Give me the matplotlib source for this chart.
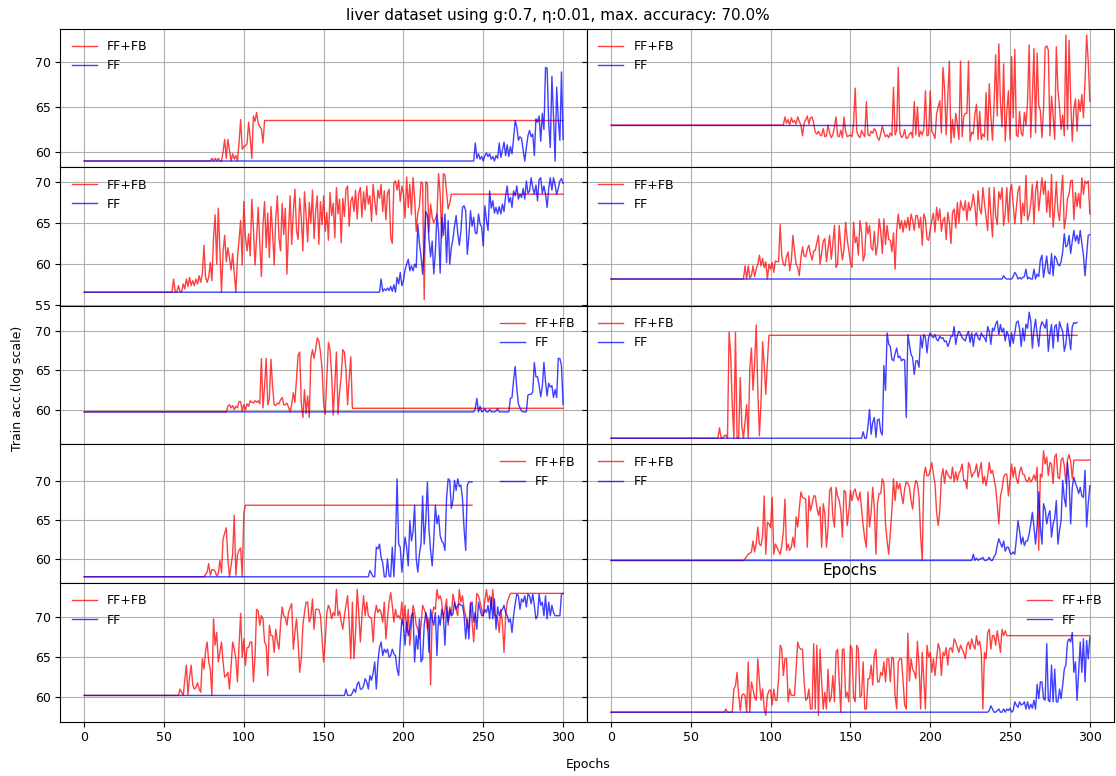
import matplotlib
matplotlib.use('Agg')
import matplotlib.pyplot as plt
import numpy as np

# Train accuracy (%) per epoch for the ten liver runs.
# "ffb" = FF+FB training, "ff" = plain FF, grid position in the name (row, col).

ffb_0_0 = [59.0] * 78 + [
    59.0, 59.0, 59.3, 59.0, 59.3, 59.0, 59.3, 59.0, 59.0, 60.0,
    61.4, 59.3, 61.4, 60.2, 59.0, 59.8, 59.2, 59.6, 59.0, 61.0,
    63.6, 60.3, 60.6, 60.7, 60.9, 63.3, 61.5, 59.3, 64.0, 63.4,
    64.4, 63.2, 62.8, 62.6, 61.0, 63.5,
] + [63.5] * 187
ff_0_0 = [59.0] * 244 + [
    59.0, 61.0, 59.3, 59.8, 59.2, 59.5,
    59.0, 59.6, 59.9, 59.5, 59.8, 59.2, 59.5, 59.0, 59.6, 59.3,
    61.0, 59.4, 60.2, 61.1, 59.6, 60.8, 59.5, 60.6, 59.8, 61.5,
    63.5, 62.8, 61.3, 61.7, 61.5, 60.2, 59.0, 60.5, 61.8, 62.4,
    61.7, 62.0, 59.6, 63.7, 63.3, 64.0, 61.2, 64.3, 62.5, 69.4,
    69.3, 63.2, 60.5, 68.4, 64.0, 59.0, 67.2, 63.5, 61.3, 68.9,
    61.4,
]

ffb_0_1 = [63.0] * 108 + [
    63.0, 63.9, 63.2, 63.6, 63.0, 63.8, 63.3, 63.5, 63.1, 63.9, 63.4, 63.0,
    61.8, 63.2, 63.6, 64.0, 63.1, 63.8, 63.9, 63.2, 62.2, 62.0,
    62.3, 61.9, 61.8, 62.6, 61.7, 61.8, 63.0, 62.1, 61.6, 61.9,
    62.8, 63.9, 61.8, 61.7, 62.4, 61.6, 63.9, 62.3, 61.7, 61.8,
    61.9, 61.7, 63.2, 67.1, 62.3, 61.8, 61.6, 62.4, 62.0, 61.7,
    65.6, 61.9, 61.8, 62.3, 62.1, 62.6, 62.3, 61.6, 61.3, 62.0,
    62.9, 62.2, 61.7, 61.9, 61.6, 62.1, 61.8, 67.2, 61.9, 62.4,
    69.4, 62.2, 61.6, 61.8, 62.5, 61.5, 61.6, 62.0, 62.2, 61.6,
    65.6, 61.9, 65.0, 61.7, 62.3, 61.9, 62.6, 66.8, 61.8, 61.9,
    66.8, 62.3, 62.0, 61.5, 64.2, 65.0, 65.7, 62.1, 69.4, 67.0,
    61.9, 66.0, 70.1, 61.0, 63.6, 61.6, 64.3, 63.1, 61.4, 70.1,
    61.7, 63.9, 64.3, 64.3, 70.1, 61.2, 62.2, 62.0, 64.2, 65.3,
    61.4, 64.5, 61.4, 62.0, 61.7, 66.6, 61.3, 67.6, 64.0, 61.3,
    65.2, 70.8, 64.0, 72.0, 65.5, 62.8, 69.8, 61.2, 64.5, 66.8,
    61.4, 70.6, 63.8, 71.4, 61.9, 61.7, 64.5, 62.1, 61.8, 64.4,
    63.0, 65.7, 71.9, 61.6, 66.1, 71.5, 62.1, 71.0, 65.2, 64.6,
    61.6, 64.8, 71.6, 71.8, 71.3, 61.8, 66.2, 64.0, 61.4, 71.7,
    67.0, 65.0, 62.5, 64.1, 61.8, 73.0, 62.5, 72.4, 65.8, 61.2,
    64.8, 65.9, 62.3, 65.8, 64.5, 66.4, 63.8, 68.0, 73.0, 70.1,
    65.6,
]
ff_0_1 = [63.0] * 301

ffb_1_0 = [56.6] * 56 + [
    58.2, 56.6, 56.6, 57.4,
    56.7, 56.6, 57.6, 57.0, 58.2, 57.3, 58.4, 57.4, 58.0, 57.4,
    58.2, 57.6, 58.6, 57.8, 58.8, 62.3, 58.5, 57.8, 58.4, 60.2,
    58.0, 63.1, 66.0, 60.0, 66.8, 61.8, 56.6, 61.5, 63.5, 60.3,
    62.0, 60.8, 59.3, 61.3, 59.0, 56.6, 60.7, 62.9, 65.3, 59.9,
    67.6, 63.3, 61.6, 63.7, 61.0, 67.9, 64.4, 59.9, 63.2, 66.9,
    62.5, 58.5, 64.8, 67.6, 62.0, 66.2, 60.8, 67.0, 63.9, 59.9,
    65.5, 68.3, 63.2, 61.6, 67.4, 63.6, 66.8, 58.8, 64.1, 68.3,
    62.4, 66.3, 69.1, 64.1, 63.0, 68.0, 65.6, 61.6, 68.8, 66.0,
    62.7, 67.5, 65.0, 69.0, 63.1, 66.5, 68.3, 62.4, 67.6, 64.8,
    68.3, 64.0, 66.3, 62.9, 68.7, 65.9, 67.4, 63.2, 69.3, 66.1,
    67.9, 62.6, 68.0, 65.8, 69.1, 69.5, 64.6, 67.6, 68.2, 66.4,
    69.0, 65.5, 68.6, 69.3, 65.7, 68.8, 66.6, 69.5, 67.3, 68.3,
    65.2, 69.7, 67.7, 66.0, 69.0, 68.0, 69.7, 66.4, 68.9, 65.4,
    68.6, 69.1, 63.3, 62.5, 69.9, 70.1, 69.0, 70.2, 67.6, 69.5,
    68.6, 65.6, 70.6, 66.9, 69.7, 66.0, 70.5, 68.0, 64.0, 66.2,
    67.0, 70.0, 69.8, 55.7, 70.0, 69.8, 63.9, 67.3, 65.7, 65.0,
    65.5, 66.0, 71.0, 68.5, 63.2, 71.0, 70.8, 68.8, 66.7, 67.4,
] + [68.5] * 71
ff_1_0 = [56.6] * 186 + [
    58.2, 56.7, 57.0, 56.8,
    57.1, 56.8, 57.3, 56.7, 57.5, 56.6, 58.4, 57.6, 59.0, 57.4,
    58.0, 59.3, 60.0, 60.6, 59.2, 59.8, 59.2, 60.0, 59.6, 64.8,
    62.5, 61.0, 58.8, 62.0, 66.4, 65.9, 63.0, 60.9, 62.8, 58.8,
    61.5, 66.1, 64.0, 58.9, 65.7, 63.5, 66.1, 60.2, 65.3, 60.0,
    62.0, 63.1, 64.6, 65.9, 63.8, 62.3, 64.0, 66.9, 67.1, 66.5,
    61.2, 63.4, 66.5, 64.6, 65.7, 63.8, 63.7, 66.1, 64.9, 64.5,
    62.2, 67.1, 65.3, 64.1, 68.9, 66.8, 67.7, 66.2, 66.9, 66.1,
    67.0, 66.1, 67.3, 66.4, 68.3, 69.5, 67.5, 68.1, 66.9, 68.9,
    68.3, 69.5, 67.9, 68.5, 68.1, 69.2, 67.9, 70.1, 68.6, 68.9,
    70.5, 69.3, 68.5, 69.6, 67.7, 70.3, 70.5, 68.6, 69.5, 68.5,
    66.9, 69.2, 70.5, 69.0, 70.5, 69.6, 68.5, 69.2, 70.1, 70.4,
    69.8,
]

ffb_1_1 = [58.2] * 84 + [
    59.8, 58.2, 59.8, 58.3, 58.6, 59.8,
    58.5, 59.4, 60.0, 61.1, 59.8, 60.7, 59.6, 60.3, 58.2, 60.0,
    59.4, 60.2, 59.0, 60.4, 60.3, 60.3, 64.8, 61.0, 60.0, 59.8,
    60.9, 61.5, 59.2, 60.4, 63.5, 61.6, 60.0, 59.6, 58.6, 60.8,
    62.1, 61.0, 60.9, 61.8, 62.3, 61.2, 60.5, 61.6, 61.7, 62.6,
    63.5, 60.0, 61.4, 62.8, 63.1, 60.3, 61.9, 63.5, 60.6, 62.5,
    64.7, 59.6, 60.0, 64.7, 62.2, 60.5, 61.8, 65.1, 63.0, 61.7,
    60.2, 59.6, 65.1, 62.6, 63.3, 61.1, 65.3, 63.8, 60.4, 61.1,
    65.1, 63.7, 64.7, 62.0, 61.7, 64.0, 61.1, 62.3, 65.5, 64.0,
    61.3, 65.5, 62.4, 64.7, 63.0, 62.9, 61.5, 63.8, 59.4, 64.2,
    66.1, 64.3, 65.3, 63.9, 65.3, 64.4, 65.7, 64.1, 66.1, 65.3,
    64.1, 65.9, 65.9, 64.4, 65.7, 62.3, 66.1, 65.5, 63.1, 62.9,
    64.2, 65.3, 66.2, 63.9, 66.9, 65.3, 66.7, 64.0, 65.3, 65.7,
    63.0, 66.3, 65.1, 62.5, 66.3, 66.7, 64.4, 67.5, 65.0, 67.7,
    66.9, 66.5, 67.7, 65.3, 67.5, 66.5, 67.1, 68.5, 67.0, 64.7,
    68.9, 66.8, 66.1, 69.3, 67.4, 65.7, 64.1, 69.3, 66.0, 63.3,
    69.3, 65.9, 64.8, 68.8, 67.9, 69.3, 64.7, 66.2, 69.3, 65.1,
    68.7, 69.7, 67.3, 64.9, 66.9, 68.9, 69.5, 64.9, 67.4, 65.9,
    70.8, 65.3, 66.0, 67.3, 69.7, 64.9, 68.9, 70.1, 66.5, 68.5,
    70.5, 68.5, 70.1, 66.3, 68.9, 65.7, 70.9, 64.5, 66.8, 70.0,
    66.5, 65.3, 68.4, 70.8, 64.3, 65.6, 68.0, 68.5, 70.1, 70.2,
    65.4, 68.7, 67.0, 68.6, 66.8, 70.5, 68.5, 70.1, 69.8, 70.1,
    66.1,
]
ff_1_1 = [58.2] * 245 + [
    58.2, 58.6, 58.3, 58.2, 58.2,
    58.2, 58.2, 58.5, 59.0, 58.7, 58.2, 58.4, 58.2, 58.4, 58.5,
    59.4, 58.2, 58.4, 58.2, 58.2, 59.4, 58.2, 58.8, 58.5, 60.5,
    61.1, 58.4, 59.7, 61.0, 59.0, 58.8, 61.3, 58.6, 61.0, 60.7,
    60.0, 59.8, 60.3, 61.5, 63.7, 62.1, 62.3, 63.5, 61.3, 62.8,
    64.1, 62.8, 63.5, 62.5, 64.1, 62.5, 61.1, 58.6, 61.0, 63.5,
    63.6,
]

ffb_2_0 = [59.8] * 90 + [
    60.5, 60.7, 60.3, 60.6, 60.1, 60.5, 60.3, 61.1, 61.1, 59.9,
    60.7, 60.0, 60.8, 60.5, 61.2, 61.0, 60.9, 61.2, 61.0, 61.2,
    60.8, 66.5, 60.3, 63.0, 66.5, 60.7, 61.5, 66.4, 63.0, 60.7,
    60.6, 60.9, 60.8, 61.3, 61.6, 60.7, 60.7, 60.9, 60.4, 59.8,
    60.7, 62.2, 61.0, 63.9, 66.9, 67.3, 60.9, 59.1, 62.6, 59.6,
    61.8, 59.1, 66.5, 67.6, 66.5, 67.6, 69.1, 68.7, 67.3, 65.3,
    60.8, 59.5, 64.0, 68.5, 67.6, 64.5, 59.4, 63.1, 67.3, 59.5,
    62.3, 64.3, 67.6, 67.3, 65.0, 60.7, 64.0, 66.7,
] + [60.25] * 133
ff_2_0 = [59.8] * 244 + [
    59.8, 60.2, 61.5, 59.8, 60.5, 59.8,
    59.9, 60.2, 59.8, 59.8, 60.1, 59.8, 59.8, 59.8, 59.9, 60.2,
    59.8, 59.8, 59.8, 59.8, 59.8, 59.8, 59.8, 61.5, 61.6, 63.8,
    65.5, 62.8, 60.8, 60.3, 59.9, 59.8, 59.8, 59.8, 61.9, 62.0,
    62.0, 62.3, 66.0, 64.2, 64.2, 63.1, 61.7, 63.0, 66.0, 63.6,
    61.8, 63.4, 62.9, 63.1, 61.6, 62.6, 61.6, 66.5, 66.5, 65.6,
    60.7,
]

ffb_2_1 = [56.5] * 68 + [
    57.8, 56.5,
    56.5, 56.8, 56.9, 56.5, 69.8, 67.0, 60.7, 56.5, 69.8, 56.5,
    56.5, 64.1, 58.0, 56.5, 58.5, 60.7, 56.5, 65.3, 67.8, 62.5,
    66.0, 70.7, 62.5, 56.8, 61.0, 68.6, 65.7, 62.0, 66.0,
] + [69.4] * 194
ff_2_1 = [56.5] * 158 + [
    57.3, 56.5,
    56.5, 58.0, 60.1, 57.0, 58.5, 59.1, 56.6, 58.8, 58.9, 57.3,
    56.9, 65.6, 62.5, 69.7, 68.3, 68.0, 66.4, 66.2, 67.1, 67.8,
    66.6, 66.8, 66.2, 66.4, 66.3, 59.1, 69.5, 68.2, 67.0, 66.6,
    64.5, 66.2, 66.2, 65.4, 69.3, 67.8, 69.5, 69.1, 67.2, 69.1,
    69.7, 69.3, 69.1, 69.5, 68.9, 68.7, 69.3, 69.0, 69.1, 68.6,
    68.7, 68.0, 68.5, 69.3, 69.3, 70.5, 68.25, 69.4, 69.9, 69.6,
    69.1, 68.9, 68.7, 69.5, 69.9, 68.5, 69.7, 68.0, 69.5, 69.7,
    69.1, 68.8, 69.7, 69.3, 69.1, 68.6, 70.5, 69.9, 68.25, 70.3,
    70.0, 70.8, 71.2, 69.5, 70.75, 69.8, 70.3, 68.7, 69.9, 69.4,
    68.0, 69.7, 68.4, 69.7, 71.0, 71.2, 70.2, 68.0, 70.3, 68.7,
    70.8, 70.3, 72.3, 71.2, 67.8, 70.1, 71.4, 69.5, 68.0, 70.4,
    71.1, 70.75, 70.3, 71.4, 67.4, 69.5, 70.75, 67.8, 70.5, 70.75,
    68.6, 71.1, 70.4, 69.9, 67.4, 68.3, 70.9, 69.2, 67.6, 70.5,
    71.0, 70.9, 71.0,
]

ffb_3_0 = [57.7] * 76 + [
    58.0, 58.3, 59.4, 57.9,
    58.6, 58.6, 58.4, 57.8, 58.1, 59.8, 58.2, 62.6, 63.3, 64.0,
    60.0, 57.7, 59.1, 60.6, 65.6, 57.9, 60.5, 61.1, 61.4, 57.7,
    65.9, 66.9,
] + [66.9] * 142
ff_3_0 = [57.7] * 179 + [
    58.5,
    58.1, 57.7, 57.7, 61.5, 61.3, 61.9, 60.2, 59.5, 57.7, 57.7,
    60.0, 57.8, 57.7, 61.5, 57.7, 62.0, 70.3, 61.9, 61.5, 58.3,
    60.5, 62.8, 61.5, 59.1, 64.9, 62.3, 63.5, 66.9, 60.0, 58.3,
    60.6, 62.0, 68.1, 61.9, 65.0, 69.9, 63.8, 61.1, 59.1, 62.5,
    66.9, 64.5, 65.6, 63.0, 62.3, 62.0, 61.1, 67.8, 70.3, 70.1,
    66.5, 67.5, 70.1, 68.8, 70.3, 69.3, 69.5, 67.7, 63.8, 61.1,
    69.5, 69.9, 69.9, 69.9,
]

ffb_3_1 = [59.8] * 84 + [
    60.0, 60.3, 60.6, 60.7, 60.9, 62.3,
    60.9, 62.0, 64.1, 61.9, 61.7, 63.0, 68.1, 60.6, 64.7, 64.5,
    64.0, 67.9, 60.6, 61.9, 61.5, 61.0, 60.6, 61.7, 63.5, 67.7,
    61.1, 61.9, 61.1, 61.5, 62.8, 61.5, 65.4, 64.1, 66.5, 68.6,
    67.9, 67.8, 67.7, 61.5, 68.1, 66.2, 67.0, 68.1, 68.1, 66.6,
    65.6, 66.7, 61.5, 67.1, 65.8, 61.5, 64.0, 68.8, 69.2, 65.5,
    64.1, 69.2, 68.1, 67.5, 66.2, 62.8, 68.8, 68.6, 64.3, 66.0,
    68.8, 67.5, 68.6, 69.0, 68.0, 67.5, 68.6, 66.5, 64.3, 62.6,
    61.5, 68.6, 64.1, 66.0, 69.2, 66.5, 60.6, 67.1, 68.4, 68.4,
    70.3, 69.7, 64.5, 62.3, 60.6, 63.5, 66.2, 70.3, 67.5, 69.9,
    69.0, 69.7, 68.2, 67.1, 69.0, 69.9, 69.7, 69.2, 67.5, 66.4,
    69.0, 70.1, 69.7, 68.0, 63.0, 59.8, 70.5, 71.8, 70.7, 70.7,
    71.4, 72.4, 70.9, 69.7, 66.0, 64.3, 66.2, 70.5, 71.6, 69.7,
    71.4, 70.9, 70.5, 70.3, 71.8, 69.9, 71.2, 70.1, 71.0, 71.4,
    72.2, 70.1, 70.1, 69.0, 72.4, 71.8, 70.5, 71.0, 71.2, 72.2,
    70.5, 71.4, 72.4, 69.7, 70.6, 69.4, 70.7, 72.4, 71.0, 71.4,
    70.3, 69.2, 67.0, 64.5, 68.0, 69.0, 70.5, 70.9, 70.9, 68.1,
    70.0, 72.2, 70.5, 71.8, 70.3, 69.7, 71.2, 71.8, 70.9, 70.8,
    70.1, 69.9, 70.5, 69.9, 70.2, 70.8, 70.1, 71.8, 61.1, 70.9,
    70.5, 73.9, 72.2, 73.1, 70.7, 72.4, 72.2, 69.7, 73.1, 73.5,
    70.5, 70.3, 72.7, 73.0, 72.0, 69.7, 72.8, 73.4, 72.5, 70.3,
    72.7,
] + [72.7] * 10
ff_3_1 = [59.8] * 227 + [
    60.6, 59.8, 60.1,
    59.8, 60.0, 60.0, 60.2, 59.8, 59.8, 59.9, 60.2, 59.8, 59.8,
    60.3, 60.6, 61.7, 62.6, 62.0, 61.5, 62.3, 61.0, 61.5, 61.5,
    60.8, 60.6, 60.9, 60.6, 62.6, 64.9, 63.6, 61.9, 62.8, 61.7,
    62.3, 62.3, 63.2, 64.5, 66.0, 64.1, 61.9, 64.3, 68.6, 64.1,
    61.9, 67.1, 66.4, 64.5, 65.6, 66.2, 62.8, 64.5, 65.2, 67.5,
    61.9, 63.6, 65.0, 70.1, 67.8, 66.7, 72.4, 70.1, 64.5, 69.2,
    70.5, 69.7, 69.2, 68.4, 69.2, 68.1, 67.9, 71.4, 64.1, 67.1,
    69.4,
]

ffb_4_0 = [60.2] * 59 + [
    60.2,
    61.0, 60.6, 60.2, 62.1, 64.0, 60.3, 62.5, 64.0, 61.5, 61.0,
    61.2, 61.8, 61.0, 60.6, 64.8, 63.5, 65.7, 66.9, 64.4, 63.5,
    60.2, 69.8, 66.5, 68.1, 64.4, 65.6, 66.9, 64.4, 62.5, 62.7,
    63.1, 61.0, 63.8, 66.9, 66.0, 64.8, 61.9, 66.5, 70.5, 65.0,
    67.3, 64.0, 66.2, 66.2, 66.9, 66.9, 61.9, 65.0, 71.0, 70.8,
    69.0, 70.2, 69.8, 66.9, 66.5, 62.7, 69.0, 67.7, 67.7, 65.6,
    68.5, 67.0, 66.0, 69.0, 71.3, 70.2, 70.0, 69.0, 70.6, 71.2,
    71.7, 66.0, 68.1, 69.8, 67.0, 63.1, 64.8, 69.0, 70.6, 71.9,
    71.9, 69.4, 70.0, 72.3, 68.5, 71.0, 71.0, 71.0, 70.2, 67.3,
    64.4, 67.0, 70.6, 71.5, 71.0, 69.8, 70.6, 70.2, 73.5, 70.2,
    70.8, 69.5, 68.5, 70.2, 71.5, 72.7, 69.4, 64.8, 71.9, 64.8,
    68.1, 73.5, 70.6, 66.9, 70.2, 72.7, 70.2, 71.9, 70.2, 70.0,
    69.8, 66.9, 70.2, 71.5, 70.6, 71.0, 70.6, 69.4, 71.9, 67.3,
    69.8, 71.9, 73.1, 71.5, 69.4, 71.0, 70.0, 70.2, 69.8, 71.9,
    69.0, 71.5, 68.1, 71.0, 66.5, 69.0, 71.5, 70.6, 69.0, 68.5,
    67.3, 69.0, 71.5, 71.0, 70.4, 68.5, 69.8, 61.5, 70.2, 71.3,
    71.0, 73.5, 72.3, 72.7, 71.9, 69.8, 71.0, 72.3, 69.0, 71.3,
    70.2, 72.9, 71.9, 71.0, 70.2, 73.5, 71.9, 72.7, 71.0, 70.2,
    69.0, 68.7, 71.9, 69.5, 66.9, 70.2, 73.0, 72.7, 71.9, 71.0,
    70.2, 72.1, 73.5, 71.9, 72.7, 71.0, 73.5, 70.2, 70.2, 69.8,
    68.1, 71.0, 69.4, 65.6, 70.2, 71.9, 72.5,
] + [73.0] * 34
ff_4_0 = [60.2] * 164 + [
    61.0, 60.2, 60.2, 60.2, 60.5, 61.0,
    60.6, 61.6, 61.9, 61.0, 61.0, 61.4, 62.3, 61.9, 61.0, 62.7,
    62.1, 63.0, 64.4, 61.0, 64.4, 66.2, 66.9, 65.2, 66.0, 65.6,
    66.0, 65.0, 65.2, 66.0, 65.4, 65.2, 63.5, 62.7, 66.9, 69.8,
    69.0, 66.5, 69.4, 67.7, 68.5, 70.2, 70.6, 64.4, 67.7, 66.0,
    69.8, 64.4, 64.8, 69.0, 70.6, 69.8, 65.6, 71.0, 69.8, 69.0,
    70.6, 65.2, 70.2, 69.0, 71.0, 70.2, 66.5, 71.3, 69.4, 71.0,
    70.2, 70.4, 71.9, 71.0, 71.5, 71.7, 71.5, 71.5, 70.2, 67.3,
    69.8, 67.3, 71.5, 71.9, 69.4, 70.6, 68.5, 71.9, 71.0, 70.2,
    70.2, 71.0, 70.6, 71.5, 69.8, 72.5, 69.8, 72.3, 68.5, 71.3,
    70.2, 70.8, 71.0, 71.5, 70.6, 70.2, 69.4, 69.8, 68.1, 70.2,
    71.7, 72.9, 72.7, 71.0, 72.3, 71.9, 72.7, 71.3, 72.9, 72.7,
    71.7, 72.9, 71.5, 69.8, 70.2, 72.9, 71.5, 71.9, 70.2, 72.7,
    69.8, 71.9, 70.2, 71.5, 70.6, 70.2, 70.2, 70.2, 70.2, 72.9,
    73.0,
]

ffb_4_1 = [58.1] * 72 + [
    58.5, 58.1, 58.1, 58.1, 58.1, 61.0, 61.4, 63.1,
    60.2, 58.3, 60.2, 60.4, 60.2, 58.1, 64.4, 58.1, 61.9, 61.0,
    59.9, 59.6, 64.8, 62.0, 59.6, 61.0, 58.6, 57.7, 60.2, 60.8,
    60.9, 59.0, 61.0, 59.6, 59.6, 62.3, 66.5, 66.0, 62.7, 64.8,
    64.8, 59.4, 61.0, 60.2, 60.2, 60.2, 63.5, 66.9, 66.2, 66.0,
    66.0, 61.9, 59.6, 59.8, 61.0, 58.5, 58.5, 66.7, 58.5, 66.5,
    57.7, 66.0, 61.9, 58.5, 60.6, 58.5, 63.5, 59.4, 60.0, 62.7,
    59.4, 65.6, 66.0, 61.9, 58.1, 66.0, 66.0, 60.0, 60.6, 59.4,
    66.5, 66.0, 60.0, 59.4, 66.5, 66.0, 60.0, 60.2, 64.4, 58.5,
    58.5, 62.3, 62.3, 64.0, 61.5, 65.2, 66.0, 61.9, 61.9, 63.1,
    62.7, 64.4, 61.9, 64.8, 64.8, 61.9, 65.0, 64.8, 60.2, 58.5,
    64.4, 64.8, 64.8, 62.0, 59.0, 58.5, 68.0, 62.0, 64.8, 63.5,
    63.1, 62.3, 67.0, 64.0, 58.5, 65.6, 62.3, 58.5, 66.5, 65.0,
    65.6, 63.1, 64.8, 62.7, 64.8, 66.7, 66.0, 62.7, 65.6, 65.2,
    66.2, 64.0, 66.0, 66.2, 65.6, 67.3, 66.9, 66.2, 65.6, 66.5,
    66.0, 65.6, 64.8, 66.5, 66.9, 66.0, 67.3, 66.5, 66.0, 67.7,
    66.5, 67.0, 65.6, 58.5, 65.6, 64.8, 68.1, 68.5, 66.0, 67.7,
    67.7, 66.5, 68.3, 67.0, 65.6, 68.5, 67.7, 68.3,
] + [67.7] * 53
ff_4_1 = [58.1] * 234 + [
    58.1, 58.1, 58.1, 58.3, 58.9, 58.5,
    58.1, 58.1, 58.3, 58.5, 58.1, 58.1, 58.5, 58.1, 58.5, 58.3,
    58.6, 58.1, 58.3, 59.4, 59.0, 58.7, 59.4, 59.0, 59.1, 59.4,
    58.5, 59.4, 58.5, 59.1, 58.6, 59.6, 58.5, 61.6, 59.8, 61.9,
    61.9, 59.8, 59.6, 66.7, 59.6, 59.4, 64.0, 59.4, 63.5, 59.4,
    59.4, 61.0, 59.8, 61.5, 63.5, 64.0, 66.9, 67.3, 66.9, 68.1,
    63.1, 64.4, 59.6, 63.1, 66.9, 63.1, 67.3, 61.9, 67.1, 64.8,
    67.5,
]

runs = [
    [(ffb_0_0, ff_0_0), (ffb_0_1, ff_0_1)],
    [(ffb_1_0, ff_1_0), (ffb_1_1, ff_1_1)],
    [(ffb_2_0, ff_2_0), (ffb_2_1, ff_2_1)],
    [(ffb_3_0, ff_3_0), (ffb_3_1, ff_3_1)],
    [(ffb_4_0, ff_4_0), (ffb_4_1, ff_4_1)],
]
legend_locs = [
    ['upper left', 'upper left'],
    ['upper left', 'upper left'],
    ['upper right', 'upper left'],
    ['upper right', 'upper left'],
    ['upper left', 'upper right'],
]


def main():
    fig, axes = plt.subplots(5, 2, sharex=True, sharey='row', figsize=(11.16, 7.76), dpi=100)
    fig.subplots_adjust(left=0.054, right=0.998, top=0.963, bottom=0.07, hspace=0, wspace=0)

    for r, row in enumerate(runs):
        for c, (acc_ffb, acc_ff) in enumerate(row):
            ax = axes[r, c]
            ax.plot(np.arange(len(acc_ffb)), acc_ffb, color='red', lw=1, alpha=0.75, label='FF+FB')
            ax.plot(np.arange(len(acc_ff)), acc_ff, color='blue', lw=1, alpha=0.75, label='FF')
            ax.grid(True)
            ax.tick_params(labelsize=9)
            ax.legend(loc=legend_locs[r][c], frameon=False, fontsize=9)

    axes[4, 1].set_title('Epochs', fontsize=11)
    fig.suptitle('liver dataset using g:0.7, η:0.01, max. accuracy: 70.0%', fontsize=11, y=0.99, va='top')
    fig.supxlabel('Epochs', x=0.527, y=0.015, va='center', fontsize=9)
    fig.supylabel('Train acc.(log scale)', x=0.01, fontsize=9)

    fig.savefig('out.png')


if __name__ == '__main__':
    main()
